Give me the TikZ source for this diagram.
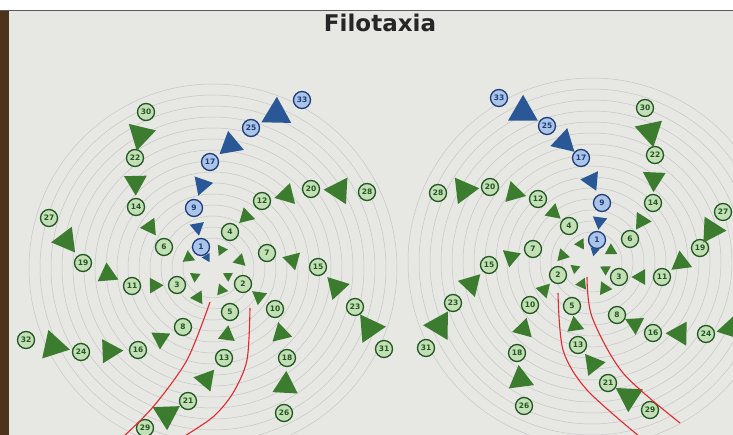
\documentclass[tikz,border=0pt]{standalone}
\usepackage{fontspec}
\setmainfont{DejaVu Sans}
\usetikzlibrary{calc}
\definecolor{cardgray}{RGB}{231,231,228}
\definecolor{leafgreen}{RGB}{60,124,46}
\definecolor{leafblue}{RGB}{42,88,150}
\definecolor{numgreen}{RGB}{32,88,34}
\definecolor{numfill}{RGB}{196,222,182}
\definecolor{numblue}{RGB}{30,62,120}
\definecolor{bluefill}{RGB}{170,196,234}
\definecolor{guidered}{RGB}{228,40,48}
\tikzset{
    num/.style={circle, draw=numgreen, line width=1.3pt, fill=numfill, text=numgreen,
        minimum size=17pt, inner sep=0pt, font=\bfseries\fontsize{7.5}{7.5}\selectfont},
    bluenum/.style={num, draw=numblue, fill=bluefill, text=numblue},
    ring/.style={draw=gray!45, line width=0.5pt},
    cut/.style={draw=guidered, line width=1.1pt}
}

\begin{document}
\begin{tikzpicture}[x=1pt, y=-1pt]
    \useasboundingbox (0,0) rectangle (733,435);
    \clip (0,0) rectangle (733,435);
    \fill[cardgray] (0,0) rectangle (733,435);
    \fill[white] (0,0) rectangle (733,11);
    \draw[gray!70!black, line width=1pt] (0,11) -- (733,11);
    \fill[black!60!brown] (0,11) rectangle (9,435);
    \node[font=\bfseries\fontsize{23}{23}\selectfont, text=black!85] (title) at (380,23) {Filotaxia};

    % concentric rings
    \foreach \side/\cx/\cy in {l/213/268, r/592/262}{
        \coordinate (\side c) at (\cx,\cy);
        \foreach \r in {30,41,...,184} \draw[ring] (\side c) circle (\r pt);
    }

    % numbered leaves, left spiral
    \foreach \k/\x/\y in {1/201/247, 2/243/284, 3/177/285, 4/230/232, 5/230/312, 6/164/247,
        7/267/253, 8/183/327, 9/194/208, 10/275/309, 11/132/286, 12/262/201, 13/224/358,
        14/136/207, 15/318/267, 16/138/350, 17/210/162, 18/287/358, 19/83/263, 20/311/189,
        21/188/401, 22/135/158, 23/355/307, 24/81/352, 25/251/128, 26/284/413, 27/49/218,
        28/367/192, 29/145/428, 30/146/112, 31/384/349, 32/26/340, 33/302/100}{
        \pgfmathtruncatemacro\q{mod(\k,8)}
        \ifnum\q=1 \def\sty{bluenum}\else\def\sty{num}\fi
        \node[\sty] (l\k) at (\x,\y) {\k};
    }
    % numbered leaves, right spiral (32 lies beyond the edge)
    \foreach \k/\x/\y in {1/597/240, 2/558/275, 3/619/277, 4/569/226, 5/572/306, 6/630/239,
        7/533/249, 8/617/315, 9/602/203, 10/530/305, 11/662/277, 12/538/199, 13/578/345,
        14/653/203, 15/489/265, 16/653/333, 17/581/158, 18/517/353, 19/700/248, 20/490/187,
        21/608/383, 22/655/155, 23/453/303, 24/706/334, 25/547/126, 26/524/406, 27/723/212,
        28/438/193, 29/650/410, 30/645/108, 31/426/348, 33/499/98}{
        \pgfmathtruncatemacro\q{mod(\k,8)}
        \ifnum\q=1 \def\sty{bluenum}\else\def\sty{num}\fi
        \node[\sty] (r\k) at (\x,\y) {\k};
    }
    \coordinate (r32) at (760,322);

    % leaf triangles pointing inward along each parastichy
    \foreach \s in {l,r}{
        \foreach \k in {1,...,33}{
            \pgfmathtruncatemacro\m{\k-8}
            \pgfmathtruncatemacro\q{mod(\k,8)}
            \ifnum\m<1 \def\tgt{\s c}\else\def\tgt{\s\m}\fi
            \ifnum\q=1 \def\col{leafblue}\else\def\col{leafgreen}\fi
            \fill[\col] let \p1=($(\tgt)-(\s\k)$), \n1={atan2(\y1,\x1)},
                \p2=($(\s\k)!0.5!(\tgt)$), \n2={(5+0.37*\k)*1pt}
                in ($(\p2)+(\n1:\n2)$) -- ($(\p2)+(\n1+120:\n2)$) -- ($(\p2)+(\n1+240:\n2)$) -- cycle;
        }
    }

    % red guide lines
    \draw[cut] plot[smooth] coordinates {(210,302) (187,360) (153,407) (123,437)};
    \draw[cut] plot[smooth] coordinates {(250,308) (247,360) (233,393) (213,417) (183,437)};
    \draw[cut] plot[smooth] coordinates {(558,293) (563,350) (587,390) (640,437)};
    \draw[cut] plot[smooth] coordinates {(587,277) (592,317) (623,373) (680,423)};
\end{tikzpicture}
\end{document}
